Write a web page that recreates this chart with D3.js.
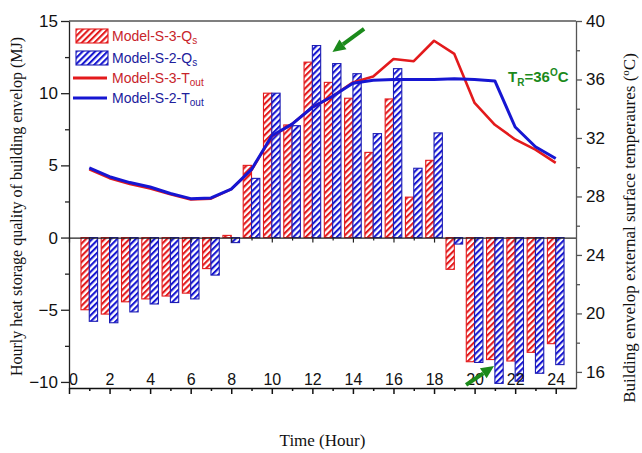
<!DOCTYPE html>
<html>
<head>
<meta charset="utf-8">
<script src="https://cdn.jsdelivr.net/npm/d3@7"></script>
<style>
  body { margin: 0; background: #fff; }
  svg { display: block; }
</style>
</head>
<body>
<svg id="chart" width="642" height="453"></svg>
<script>
// Hourly heat storage (MJ) of the building envelope, per model
const hours = d3.range(1, 25);
const qModelS3 = [-5.0, -5.3, -4.45, -4.25, -4.05, -3.85, -2.15, 0.15, 5.0, 10.0, 7.8, 12.15,
                  10.75, 9.65, 5.9, 9.6, 2.8, 5.35, -2.2, -8.6, -8.45, -8.55, -7.95, -7.35];
const qModelS2 = [-5.8, -5.9, -5.15, -4.6, -4.5, -4.25, -2.6, -0.35, 4.1, 10.0, 7.75, 13.3,
                  12.05, 11.35, 7.2, 11.7, 4.8, 7.25, -0.45, -8.65, -10.1, -9.95, -9.4, -8.8];

// External surface temperature (°C), per model
const tModelS3 = [29.85, 29.25, 28.85, 28.55, 28.15, 27.8, 27.85, 28.5, 29.8, 32.1, 32.95, 34.1,
                  34.85, 35.8, 36.2, 37.4, 37.25, 38.65, 37.75, 34.4, 32.9, 31.9, 31.2, 30.3];
const tModelS2 = [29.95, 29.35, 28.95, 28.65, 28.2, 27.85, 27.9, 28.5, 29.85, 32.15, 32.95, 34.1,
                  34.85, 35.75, 35.95, 36.0, 36.0, 36.0, 36.05, 36.0, 35.9, 32.75, 31.4, 30.6];

// Tick values
const xTicks = d3.range(0, 25, 2);
const xMinorTicks = d3.range(1, 25, 2);
const leftTicks = [-10, -5, 0, 5, 10, 15];
const leftMinorTicks = [-7.5, -2.5, 2.5, 7.5, 12.5];
const rightTicks = [16, 20, 24, 28, 32, 36, 40];
const rightMinorTicks = [18, 22, 26, 30, 34, 38];

const RED = "#e31a1c", BLUE = "#1616d2", GREEN = "#1b8a1b";
const RED_TXT = "#c8242a", BLUE_TXT = "#20209c";
const SANS = "'Liberation Sans', Arial, sans-serif";
const SERIF = "'Liberation Serif', 'Times New Roman', serif";

const svg = d3.select("#chart");
const plot = { left: 69, right: 576, top: 21, bottom: 388 };

const x = d3.scaleLinear().domain([0, 25]).range([plot.left, plot.right]);
const yL = d3.scaleLinear().domain([-10.42, 15]).range([plot.bottom, plot.top]);
const yR = d3.scaleLinear().domain([14.9, 40]).range([plot.bottom, plot.top]);
const barW = 0.41;

// Diagonal hatch fills
const defs = svg.append("defs");
function hatch(id, color) {
  const p = defs.append("pattern").attr("id", id)
    .attr("patternUnits", "userSpaceOnUse")
    .attr("width", 4.4).attr("height", 4.4)
    .attr("patternTransform", "rotate(45)");
  p.append("rect").attr("width", 4.4).attr("height", 4.4).attr("fill", "#fff");
  p.append("rect").attr("width", 2.1).attr("height", 4.4).attr("fill", color);
}
hatch("hatchRed", RED);
hatch("hatchBlue", BLUE);

// Bars: S-3 left of each hour, S-2 right of it
function bars(values, offset, fill, stroke) {
  svg.append("g").selectAll("rect")
    .data(hours.map((h, i) => ({ h, v: values[i] })))
    .join("rect")
    .attr("x", d => x(d.h + offset))
    .attr("width", x(barW) - x(0))
    .attr("y", d => yL(Math.max(0, d.v)))
    .attr("height", d => Math.abs(yL(d.v) - yL(0)))
    .attr("fill", fill)
    .attr("stroke", stroke)
    .attr("stroke-width", 1.1);
}
bars(qModelS3, -barW, "url(#hatchRed)", RED);
bars(qModelS2, 0, "url(#hatchBlue)", "#1d1db4");

// Zero line with hour ticks
const zeroMajor = svg.append("g").attr("transform", `translate(0,${yL(0)})`)
  .call(d3.axisBottom(x).tickValues(xTicks).tickSize(5).tickSizeOuter(0).tickFormat(""));
const zeroMinor = svg.append("g").attr("transform", `translate(0,${yL(0)})`)
  .call(d3.axisBottom(x).tickValues(xMinorTicks).tickSize(3).tickSizeOuter(0).tickFormat(""));
zeroMinor.select(".domain").remove();
[zeroMajor, zeroMinor].forEach(g => g.selectAll("path,line").attr("stroke", "#222").attr("stroke-width", 1.2));

// Temperature lines
const line = d3.line().x((d, i) => x(hours[i])).y(d => yR(d));
svg.append("path").datum(tModelS3).attr("d", line)
  .attr("fill", "none").attr("stroke", RED).attr("stroke-width", 2.6).attr("stroke-linejoin", "round");
svg.append("path").datum(tModelS2).attr("d", line)
  .attr("fill", "none").attr("stroke", BLUE).attr("stroke-width", 3).attr("stroke-linejoin", "round");

// Frame: top line
svg.append("line")
  .attr("x1", plot.left).attr("x2", plot.right)
  .attr("y1", plot.top).attr("y2", plot.top)
  .attr("stroke", "#555").attr("stroke-width", 1.3);

// Bottom axis (labels sit just above the axis line)
const xAxis = svg.append("g").attr("transform", `translate(0,${plot.bottom})`)
  .call(d3.axisBottom(x).tickValues(xTicks).tickSize(6).tickSizeOuter(0));
xAxis.selectAll("text").attr("y", -3).attr("dy", 0)
  .attr("x", d => d === 0 ? 4 : 0)
  .attr("font-family", SANS).attr("font-size", 16).attr("fill", "#111");
const xMinor = svg.append("g").attr("transform", `translate(0,${plot.bottom})`)
  .call(d3.axisBottom(x).tickValues(xMinorTicks).tickSize(3).tickSizeOuter(0).tickFormat(""));
xMinor.select(".domain").remove();
[xAxis, xMinor].forEach(g => g.selectAll("path,line").attr("stroke", "#111").attr("stroke-width", 1.5));

// Left axis
const lAxis = svg.append("g").attr("transform", `translate(${plot.left},0)`)
  .call(d3.axisLeft(yL).tickValues(leftTicks).tickSize(8).tickSizeOuter(0).tickPadding(3).tickFormat(d3.format("d")));
lAxis.selectAll("text").attr("font-family", SANS).attr("font-size", 17).attr("fill", "#111");
const lMinor = svg.append("g").attr("transform", `translate(${plot.left},0)`)
  .call(d3.axisLeft(yL).tickValues(leftMinorTicks).tickSize(4).tickSizeOuter(0).tickFormat(""));
lMinor.select(".domain").remove();
[lAxis, lMinor].forEach(g => g.selectAll("path,line").attr("stroke", "#222").attr("stroke-width", 1.3));

// Right axis
const rAxis = svg.append("g").attr("transform", `translate(${plot.right},0)`)
  .call(d3.axisRight(yR).tickValues(rightTicks).tickSize(6).tickSizeOuter(0).tickPadding(4));
rAxis.selectAll("text").attr("font-family", SANS).attr("font-size", 17).attr("fill", "#111");
const rMinor = svg.append("g").attr("transform", `translate(${plot.right},0)`)
  .call(d3.axisRight(yR).tickValues(rightMinorTicks).tickSize(4).tickSizeOuter(0).tickFormat(""));
rMinor.select(".domain").remove();
[rAxis, rMinor].forEach(g => g.selectAll("path,line").attr("stroke", "#555").attr("stroke-width", 1.3));

// Axis titles
svg.append("text")
  .attr("transform", `translate(22,${(plot.top + plot.bottom) / 2 + 2}) rotate(-90)`)
  .attr("text-anchor", "middle").attr("font-family", SERIF).attr("font-size", 16).attr("fill", "#111")
  .text("Hourly heat storage quality of building envelop (MJ)");
const rTitle = svg.append("text")
  .attr("transform", `translate(635,${228}) rotate(-90)`)
  .attr("text-anchor", "middle").attr("font-family", SERIF).attr("font-size", 17).attr("fill", "#111");
rTitle.append("tspan").text("Building envelop external surface temperaures (");
rTitle.append("tspan").attr("font-size", 11).attr("dy", -6).text("o");
rTitle.append("tspan").attr("dy", 6).text("C)");
svg.append("text")
  .attr("x", (plot.left + plot.right) / 2).attr("y", 446)
  .attr("text-anchor", "middle").attr("font-family", SERIF).attr("font-size", 17).attr("fill", "#111")
  .text("Time (Hour)");

// Legend
const legendItems = [
  { kind: "bar", fill: "url(#hatchRed)", stroke: RED, color: RED_TXT, base: "Model-S-3-Q", sub: "s" },
  { kind: "bar", fill: "url(#hatchBlue)", stroke: "#1d1db4", color: BLUE_TXT, base: "Model-S-2-Q", sub: "s" },
  { kind: "line", stroke: RED, color: RED_TXT, base: "Model-S-3-T", sub: "out" },
  { kind: "line", stroke: BLUE, color: BLUE_TXT, base: "Model-S-2-T", sub: "out" }
];
const legendY = [36, 58, 78, 98];
legendItems.forEach((d, i) => {
  const g = svg.append("g").attr("transform", `translate(0,${legendY[i]})`);
  if (d.kind === "bar") {
    g.append("rect").attr("x", 76).attr("y", -7).attr("width", 32).attr("height", 14)
      .attr("fill", d.fill).attr("stroke", d.stroke).attr("stroke-width", 1.1);
  } else {
    g.append("line").attr("x1", 73).attr("x2", 107).attr("y1", 0).attr("y2", 0)
      .attr("stroke", d.stroke).attr("stroke-width", 3);
  }
  const t = g.append("text").attr("x", 112).attr("y", 5)
    .attr("font-family", SANS).attr("font-size", 14).attr("fill", d.color);
  t.append("tspan").text(d.base);
  t.append("tspan").attr("font-size", 10).attr("dy", 3).text(d.sub);
});

// Annotations: arrows toward the peak and trough, and the reference temperature
function arrow(x0, y0, x1, y1) {
  const ax = x(x0), ay = yL(y0), bx = x(x1), by = yL(y1);
  const ang = Math.atan2(by - ay, bx - ax);
  const len = 13, half = 6;
  const hx = bx - len * Math.cos(ang), hy = by - len * Math.sin(ang);
  svg.append("line").attr("x1", ax).attr("y1", ay).attr("x2", hx).attr("y2", hy)
    .attr("stroke", GREEN).attr("stroke-width", 4);
  const px = -Math.sin(ang), py = Math.cos(ang);
  svg.append("path")
    .attr("d", `M${bx},${by}L${hx + px * half},${hy + py * half}L${hx - px * half},${hy - py * half}Z`)
    .attr("fill", GREEN);
}
arrow(14.55, 14.45, 12.99, 12.85);
arrow(19.58, -10.2, 20.96, -8.9);

const tr = svg.append("text").attr("x", x(21.65)).attr("y", yR(35.85))
  .attr("font-family", SANS).attr("font-size", 15).attr("font-weight", "bold").attr("fill", GREEN);
tr.append("tspan").text("T");
tr.append("tspan").attr("font-size", 10).attr("dy", 4).text("R");
tr.append("tspan").attr("dy", -4).text("=36");
tr.append("tspan").attr("font-size", 10).attr("dy", -6).text("O");
tr.append("tspan").attr("dy", 6).text("C");
</script>
</body>
</html>
